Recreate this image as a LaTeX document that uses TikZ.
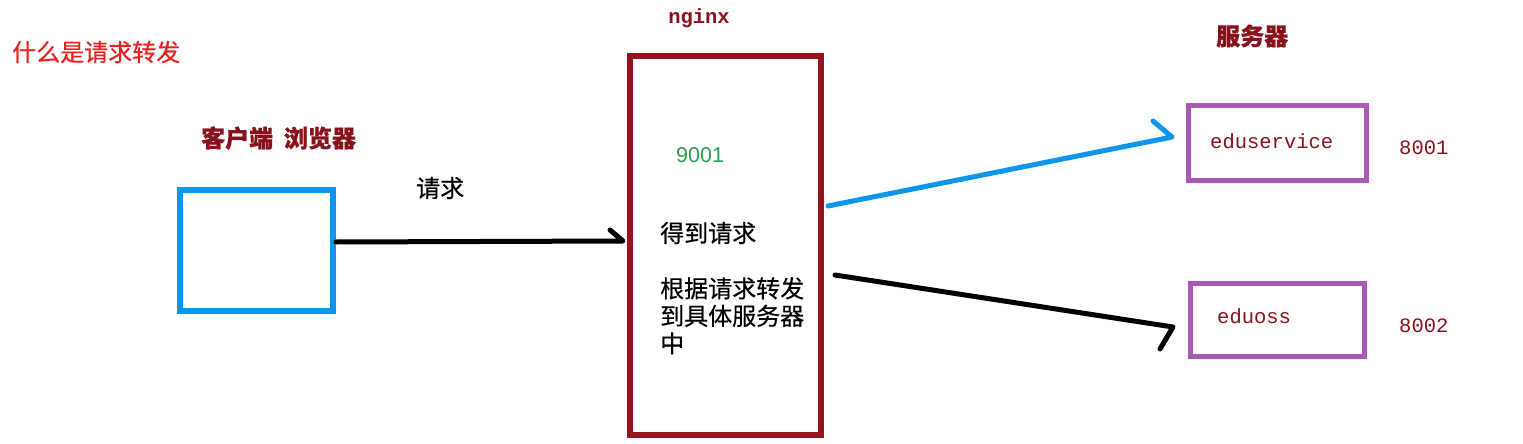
\documentclass[tikz,border=0pt]{standalone}
\usepackage{fontspec}
\newfontfamily\cjk{Noto Sans CJK SC}[FakeBold=0.4]
\newfontfamily\cjkb{Noto Sans CJK SC Bold}
\newfontfamily\monof{Liberation Mono}
\newfontfamily\sansf{Liberation Sans}
\definecolor{titlered}{RGB}{232,32,32}
\definecolor{darkred}{RGB}{135,18,28}
\definecolor{nginxred}{RGB}{150,20,30}
\definecolor{cblue}{RGB}{10,150,235}
\definecolor{cpurple}{RGB}{170,90,180}
\definecolor{cgreen}{RGB}{40,160,80}
\tikzset{
  box/.style={rectangle, inner sep=0pt, line width=6pt},
  cjklabel/.style={inner sep=0pt, font=\cjk\fontsize{24}{27.5}\selectfont},
  cjkbold/.style={inner sep=0pt, text=darkred, font=\cjk\bfseries\fontsize{24}{28}\selectfont},
  monolabel/.style={inner sep=0pt, text=darkred, font=\monof\fontsize{20.5}{24}\selectfont},
  conn/.style={line width=5pt, line cap=round, line join=round}
}
\begin{document}
\begin{tikzpicture}[x=1pt,y=-1pt]
\useasboundingbox[fill=white] (0,0) rectangle (1523,444);
% boxes
\node[box, draw=cblue, minimum width=153, minimum height=121] (client) at (256.5,250.5) {};
\node[box, draw=nginxred, minimum width=191, minimum height=379] (nginx) at (725.5,245.5) {};
\node[box, draw=cpurple, line width=5pt, minimum width=178, minimum height=75] (svc) at (1277,142.5) {};
\node[box, draw=cpurple, line width=5pt, minimum width=174, minimum height=73] (oss) at (1277,319.5) {};
% labels
\node[cjklabel, text=titlered, anchor=west] (title) at (12,52) {什么是请求转发};
\node[cjkbold, anchor=west] (clientlbl) at (201,138) {客户端\hspace{0.45em}浏览器};
\node[cjklabel, anchor=west] (reqlbl) at (416,188) {请求};
\node[monolabel, font=\monof\bfseries\fontsize{20.5}{24}\selectfont] (nginxlbl) at (699,18) {nginx};
\node[inner sep=0pt, text=cgreen, anchor=west, font=\sansf\fontsize{21.5}{24}\selectfont] (port9001) at (676,155) {9001};
\node[cjklabel, anchor=west] (gotreq) at (660,233) {得到请求};
\node[cjklabel, anchor=north west, align=left] (fwd) at (660,277) {根据请求转发\\到具体服务器\\中};
\node[cjkbold, anchor=west] (srvlbl) at (1216,36) {服务器};
\node[monolabel, anchor=west] (svclbl) at (1210,141) {eduservice};
\node[monolabel, anchor=west] (p8001) at (1399,148) {8001};
\node[monolabel, anchor=west] (osslbl) at (1217,316) {eduoss};
\node[monolabel, anchor=west] (p8002) at (1399,326) {8002};
% connector ends
\coordinate (a1s) at (336,242);
\coordinate (a1e) at (623,241);
\coordinate (a1h) at (610,230);
\coordinate (a2s) at (828,206);
\coordinate (a2e) at (1172,137);
\coordinate (a2h) at (1153,121);
\coordinate (a3s) at (835,275);
\coordinate (a3e) at (1173,327);
\coordinate (a3h) at (1160,349);
\draw[conn, black] (a1s) -- (a1e) -- (a1h);
\draw[conn, cblue] (a2s) -- (a2e) -- (a2h);
\draw[conn, black] (a3s) -- (a3e) -- (a3h);
\end{tikzpicture}
\end{document}
